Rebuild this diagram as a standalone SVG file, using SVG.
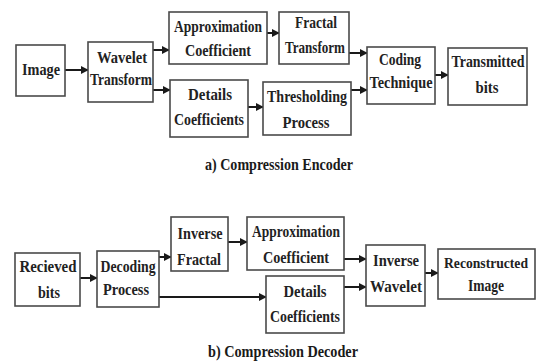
<svg xmlns="http://www.w3.org/2000/svg" width="536" height="363" viewBox="0 0 536 363">
<style>
.box{fill:#fff;stroke:#4a4a4a;stroke-width:1.6}
.t{font-family:"Liberation Serif","DejaVu Serif","Times New Roman",serif;font-size:16px;font-weight:bold;fill:#222;text-anchor:middle}
.cap{font-family:"Liberation Serif","DejaVu Serif","Times New Roman",serif;font-size:16px;font-weight:bold;fill:#1a1a1a;text-anchor:middle}
.c{stroke:#1a1a1a;stroke-width:2;fill:none;marker-end:url(#ah)}
</style>
<defs>
<marker id="ah" viewBox="0 0 10 10" refX="9" refY="5" markerWidth="4" markerHeight="4" orient="auto" markerUnits="strokeWidth">
<path d="M0,0 L10,5 L0,10 z" fill="#1a1a1a"/>
</marker>
</defs>
<rect width="536" height="363" fill="#fff"/>
<g id="connectors">
<path class="c" d="M65,70 H88"/>
<path class="c" d="M153,50 H169"/>
<path class="c" d="M153,90 H170"/>
<path class="c" d="M267,33 H279"/>
<path class="c" d="M248,107 H263"/>
<path class="c" d="M349,53 H367"/>
<path class="c" d="M351,90 H367"/>
<path class="c" d="M435,75 H448"/>
<path class="c" d="M80,278 H97"/>
<path class="c" d="M159,257 H171"/>
<path class="c" d="M228,242 H247"/>
<path class="c" d="M159,297 H266"/>
<path class="c" d="M344,259 H366"/>
<path class="c" d="M344,287 H366"/>
<path class="c" d="M425,273 H438"/>
</g>
<g id="image"><rect class="box" x="16" y="45" width="49" height="51"/><text class="t" x="41" y="75" textLength="38" lengthAdjust="spacingAndGlyphs">Image</text></g>
<g id="wavelet-transform"><rect class="box" x="88" y="42" width="65" height="60"/><text class="t" x="122" y="63" textLength="50" lengthAdjust="spacingAndGlyphs">Wavelet</text><text class="t" x="121" y="85" textLength="62" lengthAdjust="spacingAndGlyphs">Transform</text></g>
<g id="enc-approx"><rect class="box" x="169" y="12" width="98" height="52"/><text class="t" x="218" y="32" textLength="88" lengthAdjust="spacingAndGlyphs">Approximation</text><text class="t" x="218" y="56" textLength="66" lengthAdjust="spacingAndGlyphs">Coefficient</text></g>
<g id="enc-details"><rect class="box" x="170" y="80" width="78" height="57"/><text class="t" x="210" y="100" textLength="44" lengthAdjust="spacingAndGlyphs">Details</text><text class="t" x="209" y="125" textLength="70" lengthAdjust="spacingAndGlyphs">Coefficients</text></g>
<g id="fractal-transform"><rect class="box" x="279" y="12" width="70" height="52"/><text class="t" x="316" y="28" textLength="42" lengthAdjust="spacingAndGlyphs">Fractal</text><text class="t" x="315" y="53" textLength="60" lengthAdjust="spacingAndGlyphs">Transform</text></g>
<g id="thresholding"><rect class="box" x="263" y="82" width="88" height="53"/><text class="t" x="307" y="102" textLength="80" lengthAdjust="spacingAndGlyphs">Thresholding</text><text class="t" x="306" y="128" textLength="47" lengthAdjust="spacingAndGlyphs">Process</text></g>
<g id="coding"><rect class="box" x="367" y="47" width="68" height="57"/><text class="t" x="400" y="65" textLength="42" lengthAdjust="spacingAndGlyphs">Coding</text><text class="t" x="401" y="88" textLength="63" lengthAdjust="spacingAndGlyphs">Technique</text></g>
<g id="transmitted"><rect class="box" x="448" y="48" width="79" height="57"/><text class="t" x="488" y="67" textLength="73" lengthAdjust="spacingAndGlyphs">Transmitted</text><text class="t" x="487" y="93" textLength="23" lengthAdjust="spacingAndGlyphs">bits</text></g>
<text class="cap" x="279" y="170" textLength="148" lengthAdjust="spacingAndGlyphs">a) Compression Encoder</text>
<g id="received"><rect class="box" x="15" y="253" width="65" height="53"/><text class="t" x="48" y="272" textLength="57" lengthAdjust="spacingAndGlyphs">Recieved</text><text class="t" x="49" y="298" textLength="22" lengthAdjust="spacingAndGlyphs">bits</text></g>
<g id="decoding"><rect class="box" x="97" y="251" width="62" height="56"/><text class="t" x="128" y="272" textLength="55" lengthAdjust="spacingAndGlyphs">Decoding</text><text class="t" x="126" y="295" textLength="46" lengthAdjust="spacingAndGlyphs">Process</text></g>
<g id="inverse-fractal"><rect class="box" x="171" y="217" width="57" height="54"/><text class="t" x="200" y="239" textLength="45" lengthAdjust="spacingAndGlyphs">Inverse</text><text class="t" x="199" y="265" textLength="44" lengthAdjust="spacingAndGlyphs">Fractal</text></g>
<g id="dec-approx"><rect class="box" x="247" y="217" width="97" height="53"/><text class="t" x="296" y="237" textLength="88" lengthAdjust="spacingAndGlyphs">Approximation</text><text class="t" x="296" y="263" textLength="66" lengthAdjust="spacingAndGlyphs">Coefficient</text></g>
<g id="dec-details"><rect class="box" x="266" y="276" width="78" height="57"/><text class="t" x="305" y="297" textLength="43" lengthAdjust="spacingAndGlyphs">Details</text><text class="t" x="305" y="322" textLength="70" lengthAdjust="spacingAndGlyphs">Coefficients</text></g>
<g id="inverse-wavelet"><rect class="box" x="366" y="245" width="59" height="61"/><text class="t" x="396" y="266" textLength="46" lengthAdjust="spacingAndGlyphs">Inverse</text><text class="t" x="396" y="292" textLength="52" lengthAdjust="spacingAndGlyphs">Wavelet</text></g>
<g id="reconstructed"><rect class="box" x="438" y="249" width="97" height="50"/><text class="t" x="486" y="268" style="font-size:14px" textLength="84" lengthAdjust="spacingAndGlyphs">Reconstructed</text><text class="t" x="486" y="291" textLength="36" lengthAdjust="spacingAndGlyphs">Image</text></g>
<text class="cap" x="283" y="357" textLength="150" lengthAdjust="spacingAndGlyphs">b) Compression Decoder</text>
</svg>
